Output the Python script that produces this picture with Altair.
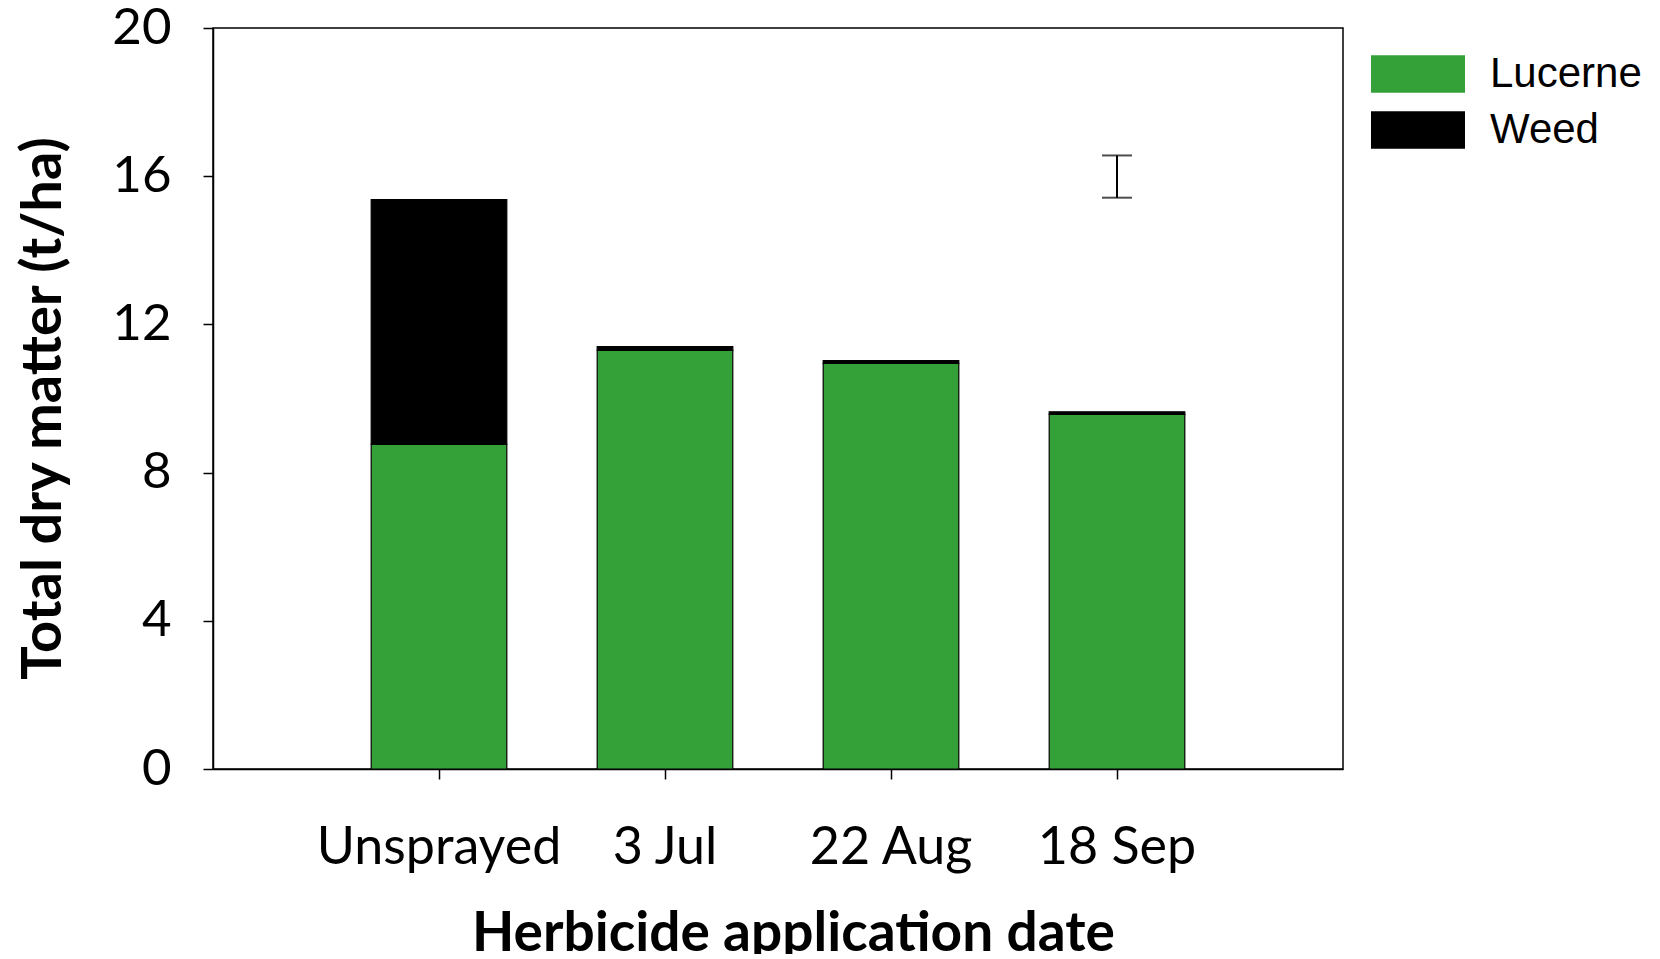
import altair as alt
import pandas as pd

dates = ["Unsprayed", "3 Jul", "22 Aug", "18 Sep"]
lucerne = [8.76, 11.30, 10.95, 9.57]
weed = [6.61, 0.10, 0.07, 0.07]
components = ["Lucerne", "Weed"]
colors = ["#34a038", "#000000"]
lsd_date = ["18 Sep"]
lsd_low = [15.42]
lsd_high = [16.56]
y_ticks = [0, 4, 8, 12, 16, 20]

rows = []
for d, l, w in zip(dates, lucerne, weed):
    rows.append({"date": d, "component": "Lucerne", "value": l, "ord": 0})
    rows.append({"date": d, "component": "Weed", "value": w, "ord": 1})
df = pd.DataFrame(rows)
lsd_df = pd.DataFrame({"date": lsd_date, "low": lsd_low, "high": lsd_high})

x_enc = alt.X(
    "date:N", sort=dates,
    scale=alt.Scale(domain=dates, paddingInner=0.4, paddingOuter=0.7),
    axis=alt.Axis(
        title="Herbicide application date", labelAngle=0, labelFont="Lato",
        labelFontSize=52, labelColor="black", labelPadding=43, labelLimit=0,
        tickSize=10, tickColor="black", tickWidth=1.5, domainColor="black",
        domainWidth=1.5, titleFont="Lato", titleFontWeight="bold",
        titleFontSize=55, titleColor="black", titleX=580, titleY=181,
        titleBaseline="alphabetic", titleAlign="center", titleLimit=0,
    ),
)
y_axis = alt.Axis(
    title="Total dry matter (t/ha)", values=y_ticks, grid=False,
    labelFont="Lato", labelFontSize=51, labelColor="black", labelPadding=32,
    tickSize=10, tickColor="black", tickWidth=1.5, domainColor="black",
    domainWidth=1.5, titleFont="Lato", titleFontWeight="bold",
    titleFontSize=56, titleColor="black", titleX=-153, titleY=380,
    titleAlign="center", titleBaseline="alphabetic", titleAngle=270,
    titleLimit=0,
)

bars = alt.Chart(df).mark_bar(stroke="black", strokeWidth=1.2).encode(
    x=x_enc,
    y=alt.Y("value:Q", stack="zero", scale=alt.Scale(domain=[0, 20], nice=False), axis=y_axis),
    color=alt.Color(
        "component:N",
        scale=alt.Scale(domain=components, range=colors),
        legend=alt.Legend(
            title=None, orient="none", legendX=1184, legendY=25,
            symbolType="M-2.5,-1H2.5V1H-2.5Z", symbolSize=1414,
            symbolStrokeWidth=0, symbolOpacity=1,
            labelFont="Liberation Sans", labelFontSize=42, labelColor="black",
            labelOffset=51, rowPadding=14, labelLimit=0,
        ),
    ),
    order=alt.Order("ord:Q"),
)

lsd_rule = alt.Chart(lsd_df).mark_rule(color="black", strokeWidth=2).encode(
    x=alt.X("date:N", sort=dates), y="low:Q", y2="high:Q"
)
lsd_low_cap = alt.Chart(lsd_df).mark_tick(color="black", size=30, thickness=2, orient="horizontal").encode(
    x=alt.X("date:N", sort=dates), y="low:Q"
)
lsd_high_cap = alt.Chart(lsd_df).mark_tick(color="black", size=30, thickness=2, orient="horizontal").encode(
    x=alt.X("date:N", sort=dates), y="high:Q"
)

chart = alt.layer(bars, lsd_rule, lsd_low_cap, lsd_high_cap).properties(
    width=1130, height=741,
    autosize=alt.AutoSizeParams(type="none"),
    padding={"left": 205, "top": 20, "right": 300, "bottom": 185},
).configure(
    background="white",
    view=alt.ViewConfig(stroke="#000000", strokeWidth=1.5, strokeOpacity=1),
)

chart.save("out.html", embed_options={"renderer": "svg", "actions": False})
